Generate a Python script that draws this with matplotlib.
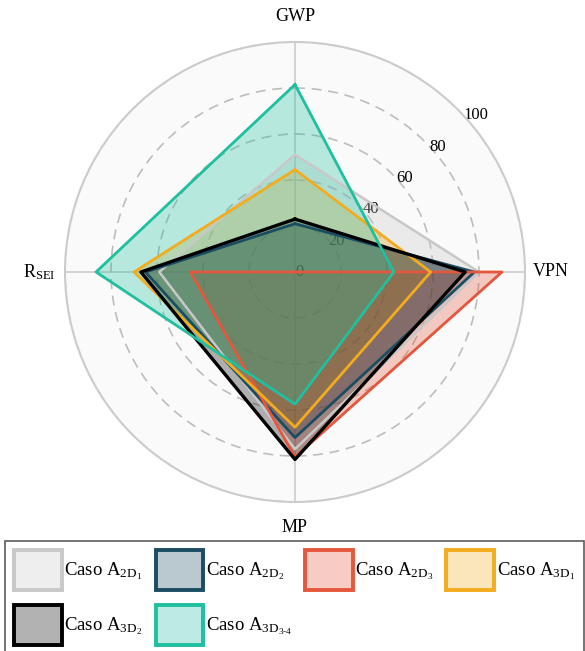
import numpy as np
import matplotlib
matplotlib.use("Agg")
import matplotlib.pyplot as plt
from matplotlib.patches import Patch

plt.rcParams['font.family'] = ['Liberation Serif', 'DejaVu Serif']
plt.rcParams['mathtext.fontset'] = 'custom'
plt.rcParams['mathtext.rm'] = 'Liberation Serif'
plt.rcParams['mathtext.it'] = 'Liberation Serif:italic'
plt.rcParams['mathtext.bf'] = 'Liberation Serif:bold'

# criteria (clockwise from top)
categories = ['GWP', 'VPN', 'MP', r'R$_{\mathrm{SEI}}$']

# values per case (0-100 scale)
caso_a2d1 = [51, 80, 77, 59]
caso_a2d2 = [21, 78, 72, 65]
caso_a2d3 = [0, 90, 80.5, 45.5]
caso_a3d1 = [44.5, 59, 67.5, 70]
caso_a3d2 = [23, 74, 81.5, 67]
caso_a3d34 = [81.5, 43, 57.5, 86.5]

series_labels = [
    r'Caso A$_{\mathrm{2D}_{\mathrm{1}}}$',
    r'Caso A$_{\mathrm{2D}_{\mathrm{2}}}$',
    r'Caso A$_{\mathrm{2D}_{\mathrm{3}}}$',
    r'Caso A$_{\mathrm{3D}_{\mathrm{1}}}$',
    r'Caso A$_{\mathrm{3D}_{\mathrm{2}}}$',
    r'Caso A$_{\mathrm{3D}_{\text{3-4}}}$',
]
series_values = [caso_a2d1, caso_a2d2, caso_a2d3, caso_a3d1, caso_a3d2, caso_a3d34]
colors = ['#c8c8c8', '#1b4d62', '#e4573d', '#f2ac1e', '#000000', '#1fbf9f']
linewidths = [1.8, 2.0, 2.0, 2.0, 2.4, 2.0]

r_ticks = [0, 20, 40, 60, 80, 100]

fig = plt.figure(figsize=(5.85, 6.51), dpi=100)
ax = fig.add_axes([65 / 585, 1 - 502 / 651, 460 / 585, 460 / 651], projection='polar')
ax.set_facecolor('#fafafa')
ax.set_theta_offset(np.pi / 2)
ax.set_theta_direction(-1)

angles = np.linspace(0, 2 * np.pi, len(categories), endpoint=False).tolist()
closed = angles + angles[:1]

for vals, col, lw in zip(series_values, colors, linewidths):
    v = list(vals) + [vals[0]]
    ax.fill(closed, v, color=col, alpha=0.3, zorder=2)
    ax.plot(closed, v, color=col, linewidth=lw, zorder=3)

ax.set_ylim(0, 100)
ax.set_yticks(r_ticks)
ax.set_yticklabels([str(t) for t in r_ticks], fontsize=12)
ax.set_rlabel_position(47)
for lab in ax.get_yticklabels():
    lab.set_verticalalignment('center')
ax.yaxis.grid(True, color='#bdbdbd', linestyle=(0, (6, 4)), linewidth=1.2)
ax.set_xticks(angles)
ax.set_xticklabels(categories, fontsize=13)
ax.xaxis.grid(True, color='#cccccc', linestyle='-', linewidth=1.2)
ax.tick_params(axis='x', pad=8)
ax.spines['polar'].set_color('#cccccc')
ax.spines['polar'].set_linewidth(1.5)

# legend filled row by row: matplotlib fills columns, so reorder
handles = [Patch(facecolor=matplotlib.colors.to_rgba(c, 0.3), edgecolor=c, linewidth=2.8)
           for c in colors]
order = [0, 4, 1, 5, 2, 3]
leg = fig.legend([handles[i] for i in order], [series_labels[i] for i in order],
                 loc='upper left', bbox_to_anchor=(5 / 585, 1 - 541 / 651),
                 ncol=4, fontsize=13.5,
                 frameon=True, fancybox=False, edgecolor='#333333',
                 handlelength=2.55, handleheight=2.9, handletextpad=0.12,
                 columnspacing=0.7, borderpad=0.5, labelspacing=0.8,
                 borderaxespad=0)
leg.get_frame().set_linewidth(1.2)

fig.savefig('out.png', dpi=100)
